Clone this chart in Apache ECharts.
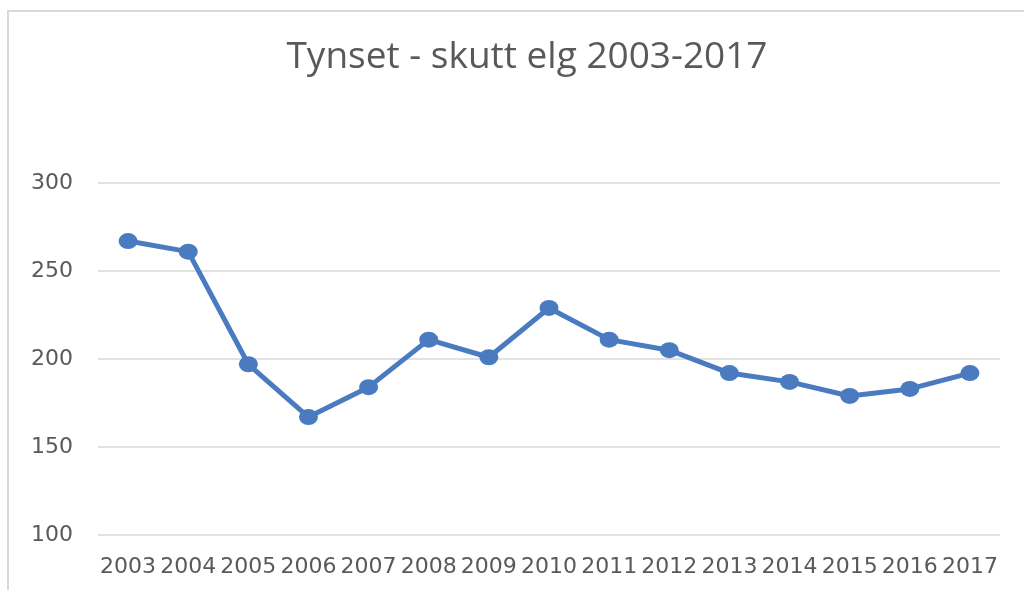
<!DOCTYPE html>
<html>
<head>
<meta charset="utf-8">
<script src="https://cdn.jsdelivr.net/npm/echarts@6/dist/echarts.min.js"></script>
<style>
  html, body { margin: 0; padding: 0; background: #fff; }
  #main { width: 1024px; height: 590px; }
</style>
</head>
<body>
<div id="main"></div>
<script>
var years = ["2003", "2004", "2005", "2006", "2007", "2008", "2009", "2010",
  "2011", "2012", "2013", "2014", "2015", "2016", "2017"];
var elg = [267, 261, 197, 167, 184, 211, 201, 229, 211, 205, 192, 187, 179, 183, 192];
var yTicks = [100, 300, 50]; // min, max, interval

var TEXT = "#595959";
var LINE = "#4a7bc0";

var myChart = echarts.init(document.getElementById('main'));

myChart.setOption({
  animation: false,
  backgroundColor: "#fff",
  title: {
    text: "Tynset - skutt elg 2003-2017",
    left: 522,
    textAlign: "center",
    top: 34,
    textStyle: {
      fontFamily: "Open Sans",
      fontWeight: "normal",
      fontSize: 37,
      color: TEXT
    }
  },
  // chart frame, only top and left edges are visible in the picture
  graphic: [{
    type: "rect",
    shape: { x: 8, y: 11, width: 1200, height: 800 },
    style: { fill: "none", stroke: "#d9d9d9", lineWidth: 2 },
    silent: true
  }],
  grid: {
    left: 98,
    right: 24,
    top: 183,
    bottom: 55
  },
  xAxis: {
    type: "category",
    data: years,
    boundaryGap: true,
    axisLine: { show: false },
    axisTick: { show: false },
    axisLabel: {
      color: TEXT,
      fontFamily: "DejaVu Sans",
      fontSize: 22,
      margin: 21,
      interval: 0
    }
  },
  yAxis: {
    type: "value",
    min: yTicks[0],
    max: yTicks[1],
    interval: yTicks[2],
    axisLine: { show: false },
    axisTick: { show: false },
    axisLabel: {
      color: TEXT,
      fontFamily: "DejaVu Sans",
      fontSize: 22,
      margin: 25
    },
    splitLine: {
      lineStyle: { color: "#d9d9d9", width: 1.5 }
    }
  },
  series: [{
    type: "line",
    data: elg,
    symbol: "circle",
    symbolSize: [19, 16],
    lineStyle: { color: LINE, width: 5 },
    itemStyle: { color: LINE }
  }]
});
</script>
</body>
</html>
